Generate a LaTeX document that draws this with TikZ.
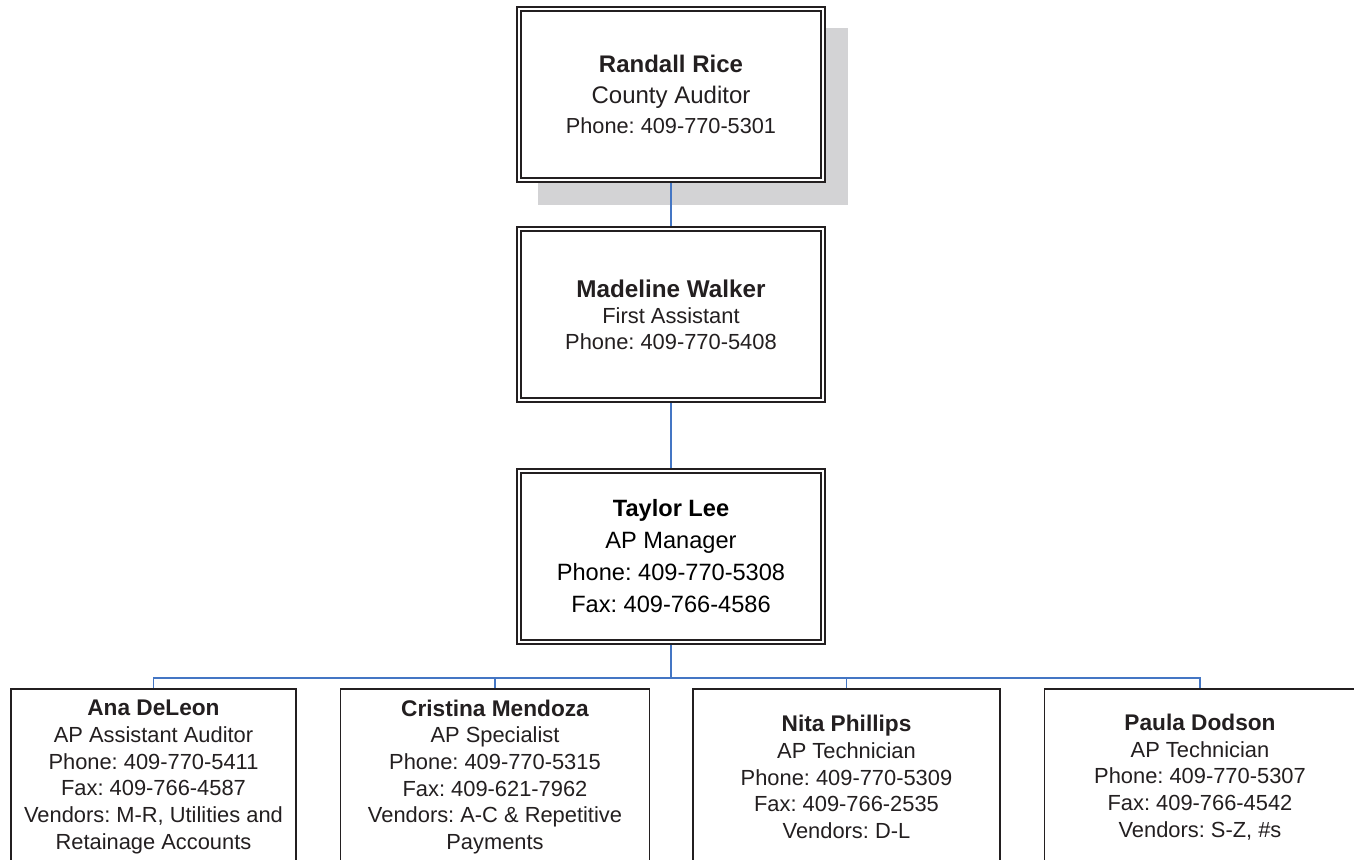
\documentclass[tikz,border=0pt]{standalone}
\usepackage{fontspec}
\setmainfont{Liberation Sans}
\frenchspacing
\definecolor{linkblue}{RGB}{68,118,196}
\definecolor{ink}{RGB}{35,31,32}
\definecolor{shadegray}{RGB}{211,211,213}
\newcommand{\staffname}[1]{{\bfseries\fontsize{17}{20}\selectfont #1}}

\begin{document}
\begin{tikzpicture}[x=0.75pt,y=-0.75pt,
	boss/.style={draw=ink,double=white,line width=1.3pt,double distance=1.6pt,fill=white,
		minimum width=228.3pt,minimum height=128.5pt,align=center,text=ink,outer sep=2.1pt},
	shade/.style={fill=shadegray,minimum width=232.5pt,minimum height=132.75pt,inner sep=0pt},
	staff/.style={draw=ink,line width=1.1pt,fill=white,minimum height=132pt,inner sep=0pt,
		align=center,text=ink,font=\fontsize{16.4}{20}\selectfont},
	link/.style={linkblue,line width=1.1pt}]
	\clip (0,0) rectangle (1354,860);
	% top of the chart
	\node[shade] (riceshade) at (693,116.5) {};
	\node[boss,font=\fontsize{16.3}{22.7}\selectfont] (rice) at (671,94.5)
		{{\bfseries\fontsize{18}{22.7}\selectfont Randall Rice}\\{\fontsize{18}{22.7}\selectfont County Auditor}\\Phone: 409-770-5301};
	\node[boss,font=\fontsize{16.4}{19.5}\selectfont] (walker) at (671,314.5)
		{{\bfseries\fontsize{18.2}{19.5}\selectfont Madeline Walker}\\First Assistant\\Phone: 409-770-5408};
	\node[boss,text=black,font=\fontsize{17.7}{24}\selectfont] (lee) at (671,556.5)
		{\textbf{Taylor Lee}\\AP Manager\\Phone: 409-770-5308\\Fax: 409-766-4586};
	% AP staff
	\node[staff,minimum width=214pt] (ana) at (153.5,777)
		{\staffname{Ana DeLeon}\\AP Assistant Auditor\\Phone: 409-770-5411\\Fax: 409-766-4587\\Vendors: M-R, Utilities and\\Retainage Accounts};
	\node[staff,minimum width=231.4pt] (cristina) at (495,777)
		{\staffname{Cristina Mendoza}\\AP Specialist\\Phone: 409-770-5315\\Fax: 409-621-7962\\Vendors: A-C \& Repetitive\\Payments};
	\node[staff,minimum width=230pt] (nita) at (846.5,777)
		{\staffname{Nita Phillips}\\AP Technician\\Phone: 409-770-5309\\Fax: 409-766-2535\\Vendors: D-L};
	\node[staff,minimum width=233pt] (paula) at (1200,777)
		{\staffname{Paula Dodson}\\AP Technician\\Phone: 409-770-5307\\Fax: 409-766-4542\\Vendors: S-Z, \#s};
	% connectors
	\coordinate (bus) at (671,678);
	\path[link] (rice) edge (walker)
		(walker) edge (lee);
	\draw[link] (lee.south) -- (bus);
	\foreach \n in {ana,cristina,nita,paula}
		\draw[link] (bus) -| (\n.north);
\end{tikzpicture}
\end{document}
